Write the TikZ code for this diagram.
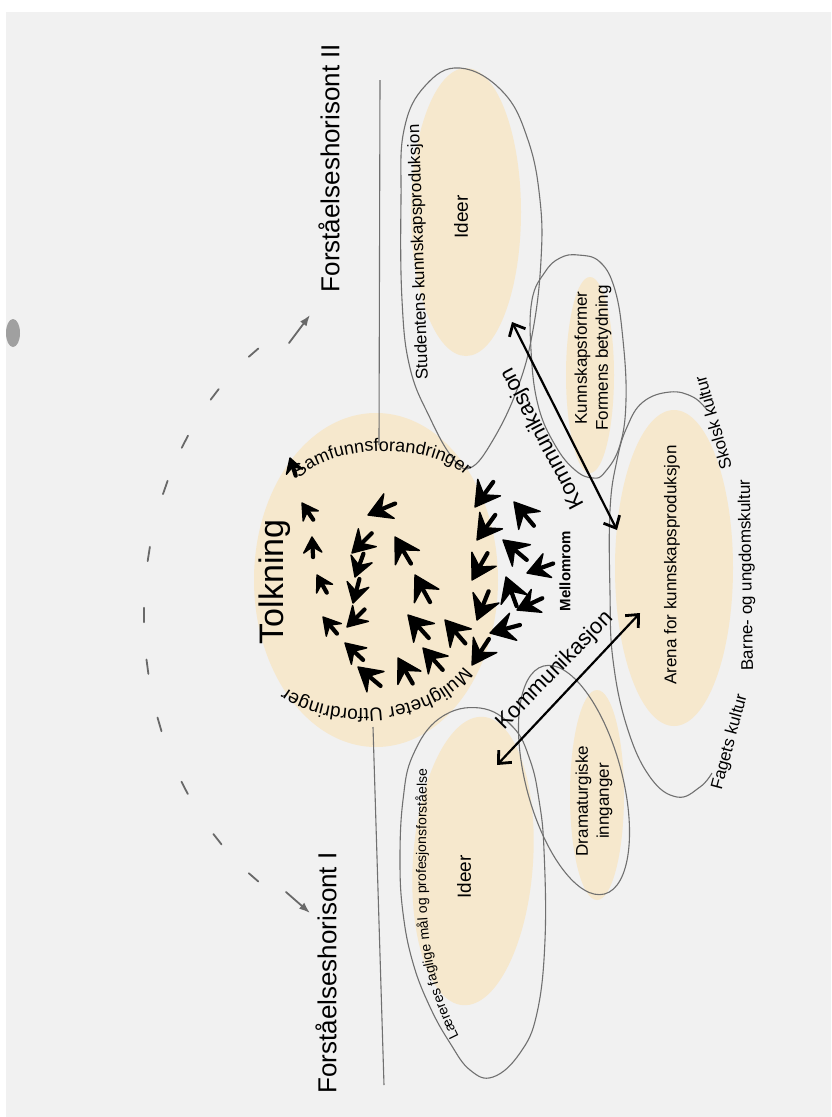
\documentclass[tikz,border=0pt]{standalone}
\usepackage{fontspec}
\setmainfont{Liberation Sans}
\usetikzlibrary{arrows.meta,shapes.geometric,decorations.text}

\definecolor{paper}{RGB}{241,241,241}
\definecolor{blobfill}{RGB}{246,232,205}
\definecolor{pencil}{RGB}{112,112,112}
\definecolor{dashgrey}{RGB}{105,105,105}
\definecolor{scanmark}{RGB}{160,160,160}
\newcommand\fsz[1]{\fontsize{#1}{#1}\selectfont}

\tikzset{
  blob/.style={ellipse, fill=blobfill, inner sep=0pt},
  outline/.style={draw=pencil, line width=1.1pt},
  hz/.style={rotate=90, font=\fsz{26}},
  lbl/.style={rotate=90, font=\fsz{17}, align=center},
  skhead/.style={line width=1.4pt, line join=round},
  skshaft/.style={line width=4.2pt, line cap=round},
  komm/.style={line width=2.2pt, {Straight Barb[length=10pt,width=18pt,line width=2.8pt]}-{Straight Barb[length=10pt,width=18pt,line width=2.8pt]}},
  dashmark/.style={draw=dashgrey, line width=1.8pt, line cap=round},
}

\begin{document}
\begin{tikzpicture}[x=1pt,y=-1pt]

\useasboundingbox (0,0) rectangle (831,1117);
\fill[white] (0,0) rectangle (831,1117);
\fill[paper] (6,12) rectangle (831,1117);
\fill[scanmark] (13,333) ellipse [x radius=7, y radius=14];

% dashed arc between the two horizons
\foreach \t in {124.9,135.5,147.3,160,170.7,180,191,203.5,212.8,223.6,235.1}
  \draw[dashmark] ({400+256*cos(\t-1.3)},{615+320*sin(\t-1.3)}) -- ({400+256*cos(\t+1.3)},{615+320*sin(\t+1.3)});
\coordinate (arcTopTail) at (289,343);
\coordinate (arcTop) at (310,315);
\coordinate (arcBotTail) at (286,892);
\coordinate (arcBot) at (310,913);
\draw[dashmark, -{Latex[length=11pt,width=8pt]}] (arcTopTail) -- (arcTop);
\draw[dashmark, -{Latex[length=11pt,width=8pt]}] (arcBotTail) -- (arcBot);

% fills
\node[blob, minimum width=244pt, minimum height=334pt] (tolk) at (376,580) {};
\node[blob, rotate=90, minimum width=288pt, minimum height=110pt] (ideerS) at (466,212) {};
\node[blob, rotate=90, minimum width=196pt, minimum height=48pt] (kform) at (590,375) {};
\node[blob, rotate=90, minimum width=316pt, minimum height=118pt] (arena) at (674,568) {};
\node[blob, rotate=90, minimum width=210pt, minimum height=54pt] (drama) at (597,795) {};
\node[blob, rotate=86, minimum width=289pt, minimum height=120pt] (ideerL) at (473,861) {};

% horizon line
\draw[pencil, line width=1.1pt] (380,80) -- (379,445);
\draw[pencil, line width=1.1pt] (373,727) -- (384,1085);

% outlines
\draw[outline] plot[smooth cycle, tension=0.7] coordinates {(460,68) (503,92) (528,140) (540,200) (541,260) (533,330) (518,387) (493,440) (470,468) (452,457) (430,418) (410,368) (402,300) (401,200) (404,130) (425,86)};
\draw[outline] plot[smooth cycle, tension=0.7] coordinates {(578,255) (600,262) (615,290) (623,340) (626,400) (620,445) (605,472) (593,478) (575,470) (555,445) (538,405) (531,350) (532,300) (545,272) (560,258)};
\draw[outline] plot[smooth, tension=0.7] coordinates {(712,773) (700,787) (677,797) (650,777) (627,727) (613,660) (610,593) (610,510) (617,460) (627,427) (643,402) (670,392) (693,397) (707,410)};
\node[ellipse, outline, inner sep=0pt, rotate=105, minimum width=236pt, minimum height=96pt] (dramaO) at (574,780) {};
\draw[outline] plot[smooth cycle, tension=0.7] coordinates {(480,708) (513,727) (530,760) (539,800) (544,850) (545,940) (537,1013) (520,1053) (493,1077) (470,1070) (450,1043) (430,1007) (413,963) (403,913) (400,860) (403,800) (413,755) (440,718)};

% labels
\node[hz] (hzII) at (329,168) {Forståelseshorisont II};
\node[hz] (hzI) at (326,973) {Forståelseshorisont I};
\node[rotate=90, font=\fsz{34}] (tolktxt) at (275,582) {Tolkning};
\node[rotate=90, font=\fsz{15}\bfseries] (mellom) at (565,571) {Mellomrom};
\node[lbl, font=\fsz{19}] (ideerStxt) at (461,217) {Ideer};
\node[lbl, font=\fsz{19}] (ideerLtxt) at (464,877) {Ideer};
\node[lbl, rotate=2] (stud) at (419,252) {Studentens kunnskapsproduksjon};
\node[lbl, font={\fontsize{17}{21}\selectfont}] (kformtxt) at (593,358) {Kunnskapsformer\\Formens betydning};
\node[lbl, font={\fontsize{17}{21}\selectfont}] (dramatxt) at (594,801) {Dramaturgiske\\innganger};
\node[lbl] (arenatxt) at (672,565) {Arena for kunnskapsproduksjon};
\node[lbl, rotate=16] (skolsk) at (713,423) {Skolsk kultur};
\node[lbl, rotate=1] (barne) at (747,575) {Barne- og ungdomskultur};
\node[lbl, rotate=-15] (fagets) at (730,742) {Fagets kultur};

\path[decorate, decoration={text along path, text align=center,
  text={|\fsz{18}|Samfunnsforandringer}}]
  (298,482) .. controls (320,445) and (430,438) .. (468,478);
\path[decorate, decoration={text along path, text align=center,
  text={|\fsz{19}|Muligheter Utfordringer}}]
  (464,666) .. controls (430,716) and (330,721) .. (286,688);
\path[decorate, decoration={text along path, text align=center,
  text={|\fsz{14}|Læreres faglige mål og profesjonsforståelse}}]
  (462,1042) .. controls (432,985) and (426,940) .. (426,870) -- (427,762);

% arrows inside and around Tolkning
\foreach \x/\y/\a/\s in {
  290/458/108/0.6, 302/503/124/0.65, 312/537/93/0.65, 317/575/119/0.65, 323/617/130/0.7,
  368/515/203/0.95, 352/553/225/0.9, 355/577/250/0.8, 353/603/255/0.8, 347/627/225/0.8,
  345/643/137/0.8, 358/667/140/0.95, 398/658/120/0.95, 423/648/132/0.95,
  395/537/121/1, 415/575/119/1, 408/615/132/1, 445/620/131/1,
  475/507/234/1, 477/540/234/1, 472/580/240/1, 477/620/248/1, 472/665/237/1,
  514/502/130/1, 503/540/140/1, 527/573/200/0.9, 506/577/110/1, 517/610/205/0.9, 490/633/195/1}
{
  \filldraw[skhead, shift={(\x,\y)}, rotate=\a, scale=\s]
    (0pt,0pt) -- (-24pt,14pt) -- (-15pt,0pt) -- (-24pt,-14pt) -- cycle;
  \draw[skshaft, shift={(\x,\y)}, rotate=\a, scale=\s] (-13pt,0pt) -- (-31pt,0pt);
}

% Kommunikasjon
\coordinate (komAs) at (512,322);
\coordinate (komAe) at (617,530);
\coordinate (komBs) at (497,765);
\coordinate (komBe) at (640,613);
\draw[komm] (komAs) -- (komAe);
\draw[komm] (komBs) -- (komBe);
\node[rotate=118, font=\fsz{22}] (komAtxt) at (543,438) {Kommunikasjon};
\node[rotate=45.5, font=\fsz{22}] (komBtxt) at (555,671) {Kommunikasjon};

\end{tikzpicture}
\end{document}
